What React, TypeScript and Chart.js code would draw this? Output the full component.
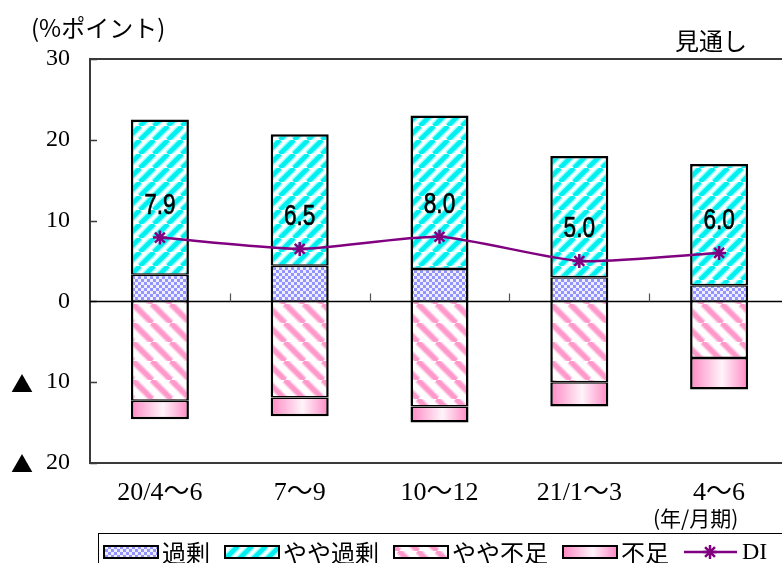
import React, { useEffect, useRef } from 'react';
import { Chart, registerables } from 'chart.js';

Chart.register(...registerables);

// ---- data ----
const categories = ['20/4～6', '7～9', '10～12', '21/1～3', '4～6'];
const excess = [3.3, 4.4, 4.0, 3.0, 2.0]; // 過剰
const slightExcess = [19.2, 16.3, 19.0, 15.0, 15.0]; // やや過剰
const slightShort = [-12.3, -11.9, -13.0, -10.0, -7.0]; // やや不足
const shortage = [-2.3, -2.3, -2.0, -3.0, -3.9]; // 不足
const di = [7.9, 6.5, 8.0, 5.0, 6.0]; // DI
const seriesNames = ['過剰', 'やや過剰', 'やや不足', '不足', 'DI'];
const yTickValues = [30, 20, 10, 0, -10, -20];
const yMin = -20;
const yMax = 30;
const yStep = 10;
const axisTitle = '(%ポイント)';
const outlookLabel = '見通し';
const periodUnit = '(年/月期)';
const negMark = '▲';

const CAT_PCT = 0.415;
const JP = "'Noto Sans CJK JP', 'Noto Sans CJK SC', sans-serif";
const SERIF = "'Liberation Serif', 'Noto Sans CJK JP', serif";
const SANS = "'Liberation Sans', 'DejaVu Sans', sans-serif";
const PURPLE = '#800080';

function mk(w: number, h: number) {
  const c = document.createElement('canvas');
  c.width = w;
  c.height = h;
  return c;
}

function checkerPattern(ctx: CanvasRenderingContext2D) {
  const c = mk(6, 6);
  const g = c.getContext('2d')!;
  g.fillStyle = '#eeeeff';
  g.fillRect(0, 0, 6, 6);
  g.fillStyle = '#9494ff';
  g.fillRect(0, 0, 3, 3);
  g.fillRect(3, 3, 3, 3);
  return ctx.createPattern(c, 'repeat')!;
}

function stripePattern(ctx: CanvasRenderingContext2D, p: number, color: string, soft: string, lw: number, dir: string) {
  const c = mk(p, p);
  const g = c.getContext('2d')!;
  g.fillStyle = '#ffffff';
  g.fillRect(0, 0, p, p);
  const draw = (w: number, col: string) => {
    g.strokeStyle = col;
    g.lineWidth = w;
    g.beginPath();
    for (let k = -1; k <= 1; k++) {
      if (dir === '/') {
        g.moveTo(k * p, p);
        g.lineTo(k * p + p, 0);
      } else {
        g.moveTo(k * p, 0);
        g.lineTo(k * p + p, p);
      }
    }
    g.stroke();
  };
  draw(lw + 3, soft);
  draw(lw, color);
  return ctx.createPattern(c, 'repeat')!;
}

function pinkGradient(ctx: CanvasRenderingContext2D, x0: number, x1: number) {
  const g = ctx.createLinearGradient(x0, 0, x1, 0);
  g.addColorStop(0, '#ff88c4');
  g.addColorStop(0.55, '#fff4fa');
  g.addColorStop(1, '#ff88c4');
  return g;
}

export default function App() {
  const ref = useRef<HTMLCanvasElement | null>(null);

  useEffect(() => {
    const canvas = ref.current!;
    const ctx0 = canvas.getContext('2d')!;
    const pCheck = checkerPattern(ctx0);
    const pCyan = stripePattern(ctx0, 14, '#00f0f0', '#a0ffff', 4.5, '/');
    const pPink = stripePattern(ctx0, 19, '#ff99cc', '#ffd0e6', 4.5, '\\');

    const decor = {
      id: 'decor',
      beforeDatasetsDraw(chart: any) {
        const { ctx, chartArea: a, scales } = chart;
        const y = scales.y;
        ctx.save();
        ctx.strokeStyle = '#3a3a3a';
        ctx.lineWidth = 2;
        ctx.beginPath();
        ctx.moveTo(a.right, a.top);
        ctx.lineTo(a.left, a.top);
        ctx.lineTo(a.left, a.bottom);
        ctx.lineTo(a.right, a.bottom);
        ctx.stroke();
        ctx.lineWidth = 1.5;
        ctx.beginPath();
        yTickValues.forEach((v) => {
          const py = Math.round(y.getPixelForValue(v)) + 0.5;
          ctx.moveTo(a.left, py);
          ctx.lineTo(a.left + 7, py);
        });
        ctx.stroke();
        const y0 = Math.round(y.getPixelForValue(0)) + 0.5;
        ctx.strokeStyle = '#000';
        ctx.lineWidth = 1.5;
        ctx.beginPath();
        ctx.moveTo(a.left, y0);
        ctx.lineTo(a.right, y0);
        ctx.stroke();
        ctx.strokeStyle = '#555';
        ctx.lineWidth = 1.2;
        ctx.beginPath();
        const n = categories.length;
        for (let i = 1; i < n; i++) {
          const px = Math.round(a.left + (i * a.width) / n) + 0.5;
          ctx.moveTo(px, y0 - 8);
          ctx.lineTo(px, y0);
        }
        ctx.stroke();
        ctx.restore();
      },
      afterDatasetsDraw(chart: any) {
        const { ctx } = chart;
        const meta = chart.getDatasetMeta(0);
        ctx.save();
        ctx.fillStyle = '#000';
        ctx.strokeStyle = '#000';
        ctx.lineWidth = 0.6;
        ctx.font = `29px ${SANS}`;
        ctx.textAlign = 'center';
        ctx.textBaseline = 'middle';
        meta.data.forEach((pt: any, i: number) => {
          ctx.save();
          ctx.translate(pt.x, pt.y - 32);
          ctx.scale(0.78, 1);
          ctx.fillText(di[i].toFixed(1), 0, 0);
          ctx.strokeText(di[i].toFixed(1), 0, 0);
          ctx.restore();
        });
        ctx.restore();
      },
      afterDraw(chart: any) {
        const { ctx, scales } = chart;
        ctx.save();
        ctx.fillStyle = '#000';
        ctx.textBaseline = 'middle';
        ctx.textAlign = 'left';
        ctx.font = `24px ${JP}`;
        ctx.fillText(axisTitle, 31, 28);
        ctx.font = `24px ${JP}`;
        ctx.fillText(outlookLabel, 675, 41);
        ctx.font = `21px ${JP}`;
        ctx.fillText(periodUnit, 653, 518);

        // negative markers for y tick labels
        ctx.textAlign = 'center';
        ctx.font = `22px ${JP}`;
        yTickValues.forEach((v) => {
          if (v < 0) ctx.fillText(negMark, 22, scales.y.getPixelForValue(v) + 1);
        });
        ctx.textAlign = 'left';

        // legend
        const top = 533;
        ctx.strokeStyle = '#000';
        ctx.lineWidth = 1;
        ctx.strokeRect(98.5, top + 0.5, 760, 60);
        const fills: any[] = [pCheck, pCyan, pPink, 'grad'];
        let x = 104;
        const sy = 546;
        const sh = 12;
        const sw = 54;
        for (let i = 0; i < 5; i++) {
          if (i < 4) {
            let f = fills[i];
            if (f === 'grad') f = pinkGradient(ctx, x, x + sw);
            ctx.fillStyle = f;
            ctx.fillRect(x, sy, sw, sh);
            ctx.strokeStyle = '#000';
            ctx.lineWidth = 2;
            ctx.strokeRect(x, sy, sw, sh);
          } else {
            ctx.strokeStyle = PURPLE;
            ctx.lineWidth = 2.5;
            ctx.beginPath();
            ctx.moveTo(x, sy + 6);
            ctx.lineTo(x + 53, sy + 6);
            ctx.stroke();
            const cx = x + 26;
            const cy = sy + 6;
            const r = 7;
            ctx.beginPath();
            for (let k = 0; k < 4; k++) {
              const ang = (k * Math.PI) / 4;
              ctx.moveTo(cx - r * Math.cos(ang), cy - r * Math.sin(ang));
              ctx.lineTo(cx + r * Math.cos(ang), cy + r * Math.sin(ang));
            }
            ctx.stroke();
          }
          x += sw + 4;
          ctx.fillStyle = '#000';
          ctx.font = i === 4 ? `24px ${SERIF}` : `24px ${JP}`;
          ctx.fillText(seriesNames[i], x, 553);
          x += ctx.measureText(seriesNames[i]).width + 15;
        }
        ctx.restore();
      },
    };

    const barBase = {
      type: 'bar' as const,
      borderColor: '#000',
      borderSkipped: false,
      stack: 'bars',
      order: 1,
      categoryPercentage: CAT_PCT,
      barPercentage: 1,
    };

    const chart = new Chart(canvas, {
      type: 'bar',
      data: {
        labels: categories,
        datasets: [
          {
            type: 'line',
            label: seriesNames[4],
            data: di,
            borderColor: PURPLE,
            backgroundColor: PURPLE,
            borderWidth: 2.5,
            pointStyle: 'star',
            pointRadius: 7,
            pointBorderWidth: 2.5,
            pointBorderColor: PURPLE,
            tension: 0.2,
            stack: 'di',
            order: 0,
          } as any,
          {
            ...barBase,
            label: seriesNames[0],
            data: excess,
            backgroundColor: pCheck,
            borderWidth: { top: 1.5, bottom: 1.2, left: 2.5, right: 2.5 },
          } as any,
          {
            ...barBase,
            label: seriesNames[1],
            data: slightExcess,
            backgroundColor: pCyan,
            borderWidth: { top: 2.5, bottom: 1.5, left: 2.5, right: 2.5 },
          } as any,
          {
            ...barBase,
            label: seriesNames[2],
            data: slightShort,
            backgroundColor: pPink,
            borderWidth: { top: 1.2, bottom: 1.5, left: 2.5, right: 2.5 },
          } as any,
          {
            ...barBase,
            label: seriesNames[3],
            data: shortage,
            borderWidth: { top: 1.5, bottom: 2.5, left: 2.5, right: 2.5 },
            backgroundColor: (c: any) => {
              const ch = c.chart;
              const xs = ch.scales && ch.scales.x;
              if (!xs || c.dataIndex == null || !ch.chartArea) return '#ffb8dc';
              const cx = xs.getPixelForValue(c.dataIndex);
              const w = (xs.width / categories.length) * CAT_PCT;
              return pinkGradient(ch.ctx, cx - w / 2, cx + w / 2);
            },
          } as any,
        ],
      },
      options: {
        responsive: false,
        maintainAspectRatio: false,
        devicePixelRatio: 1,
        animation: false,
        events: [],
        layout: { padding: { left: 0, top: 59, right: 11, bottom: 0 } },
        plugins: {
          legend: { display: false },
          tooltip: { enabled: false },
          title: { display: false },
        },
        scales: {
          x: {
            stacked: true,
            offset: true,
            grid: { display: false, drawTicks: false },
            border: { display: false },
            ticks: {
              color: '#000',
              font: { family: SERIF, size: 26 },
              padding: 15,
              maxRotation: 0,
              autoSkip: false,
            },
            afterFit: (s: any) => {
              s.height = 100;
            },
          },
          y: {
            stacked: true,
            min: yMin,
            max: yMax,
            grid: { display: false, drawTicks: false },
            border: { display: false },
            ticks: {
              stepSize: yStep,
              color: '#000',
              font: { family: SERIF, size: 24 },
              padding: 20,
              callback: (v: any) => String(Math.abs(Number(v))),
            },
            afterFit: (s: any) => {
              s.width = 90;
            },
          },
        },
      },
      plugins: [decor],
    });

    return () => {
      chart.destroy();
    };
  }, []);

  return (
    <div
      style={{
        position: 'fixed',
        left: 0,
        top: 0,
        width: 782,
        height: 563,
        overflow: 'hidden',
        background: '#ffffff',
      }}
    >
      <canvas ref={ref} width={800} height={563} style={{ display: 'block', width: 800, height: 563 }} />
    </div>
  );
}
